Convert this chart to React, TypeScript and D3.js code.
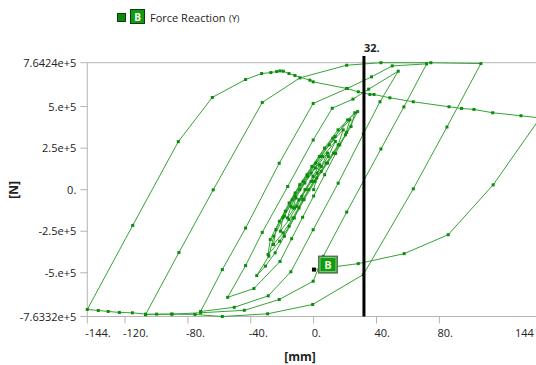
import React from 'react';
import * as d3 from 'd3';

// ---- tick data ----
const xTicks = [-144, -120, -80, -40, 0, 40, 80, 144];
const xTickLabels = ['-144.', '-120.', '-80.', '-40.', '0.', '40.', '80.', '144'];
const yTicks = [764240, 500000, 250000, 0, -250000, -500000, -763320];
const yTickLabels = ['7.6424e+5', '5.e+5', '2.5e+5', '0.', '-2.5e+5', '-5.e+5', '-7.6332e+5'];
const cursorX = 32;
const cursorLabel = '32.';
const seriesName = 'Force Reaction';
const seriesTag = 'B';

// ---- series: [displacement mm, force kN] in time order ----
const smallCycles: [number, number][] = [
  [0, 0], [2, 70], [3.8, 150],
  [-0.4, 80], [-5.5, 0], [-9.4, -60], [-13.2, -110],
  [-11.3, -50], [-5.6, 40], [1.1, 130], [8.8, 220],
  [4.9, 140], [-1.6, 50], [-7.5, -40], [-12.2, -110], [-16.6, -170],
  [-14.4, -100], [-8.8, 0], [-1.6, 100], [5.8, 200], [13.8, 290],
  [9.3, 200], [2.2, 100], [-5, 0], [-10.6, -100], [-15.7, -180], [-21.1, -250],
  [-19.6, -170], [-13.6, -60], [-6.6, 50], [1.3, 160], [10, 270], [18.8, 360],
  [15.6, 270], [7.9, 160], [0, 50], [-7, -60], [-13.2, -170], [-19.4, -260], [-25.6, -330],
  [-24, -240], [-18, -130], [-11.8, -20], [-4.2, 90], [3.6, 200], [12.2, 310], [23.1, 420],
  [20.2, 330], [12.7, 220], [4.8, 110], [-3.1, 0], [-9.3, -110], [-15.6, -220], [-21.6, -310], [-29, -390],
  [-27.6, -300], [-21.8, -190], [-15.6, -80], [-8.9, 30], [-1.1, 140], [6.9, 250], [15.5, 360], [26.2, 463],
  [23.8, 380], [16.6, 270], [8.8, 160], [0.9, 50], [-6.1, -60], [-12.3, -170], [-18.6, -280], [-24.5, -380], [-30.7, -460], [-36.2, -517],
  [-28.5, -400], [-25.4, -280], [-18.6, -160], [-11.9, -40], [-3.9, 80], [4.7, 200], [13.7, 320], [21.6, 420], [28, 470],
];
const unload28: [number, number][] = [
  [21, 345], [14, 218], [7, 90], [0, -38], [-7, -166], [-14, -295], [-21.4, -432], [-38, -595], [-54.7, -648],
];
const load54: [number, number][] = [
  [-43.3, -457], [-32.7, -257], [-16.5, 19], [-0.3, 299], [11.8, 490], [25, 545], [35, 605], [53.8, 713],
];
const unload54: [number, number][] = [
  [42.2, 529], [31.6, 335], [15.6, 39], [-0.3, -241], [-14.5, -494], [-28.9, -639], [-50.5, -708], [-71.9, -733],
];
const load72: [number, number][] = [
  [-58.1, -481], [-43.3, -231], [-21.9, 159], [-0.3, 519], [21.4, 609], [36.8, 679], [50, 745], [71.9, 757],
];
const unload72: [number, number][] = [
  [57.4, 498], [42.8, 245], [21, -135], [6.1, -401], [-0.3, -551], [-21.9, -661], [-44.1, -726], [-71.9, -741], [-90, -749], [-107, -753],
];
const load106: [number, number][] = [
  [-85.7, -378], [-63.9, -1], [-32.7, 525], [-8.7, 673], [21, 749], [42.8, 764.24], [74.6, 764], [106.4, 759],
];
const unload106: [number, number][] = [
  [84.8, 377], [63.4, 5], [31.6, -511], [-0.6, -691], [-29.3, -747], [-58.1, -763.32], [-75.5, -751], [-90.4, -749],
  [-99.9, -749], [-106.9, -749], [-115.3, -741], [-123.6, -739], [-130.7, -733], [-137, -727], [-144, -721],
];
const load144: [number, number][] = [
  [-115.1, -215], [-86.1, 289], [-64.5, 555], [-43.3, 663], [-33.1, 699], [-27.2, 705], [-23.5, 711], [-21.4, 715],
  [-19.3, 713], [-15.7, 699], [-11.9, 687], [-2.4, 659], [-0.3, 649], [21, 609], [28.4, 589], [35.8, 573], [38.4, 573],
  [48.5, 553], [63.4, 529], [86.1, 499], [94.1, 489], [102, 483], [113.9, 463], [131.9, 445], [144, 431],
];
const unload144: [number, number][] = [
  [114.2, 29], [85.6, -271], [57.6, -385], [28.4, -445], [0.2, -481],
];

const series: [number, number][] = [
  ...smallCycles, ...unload28, ...load54, ...unload54, ...load72, ...unload72,
  ...load106, ...unload106, ...load144, ...unload144,
];

const W = 536;
const H = 365;
const FONT = '"Open Sans", "Noto Sans", sans-serif';

export default function App() {
  const x = d3.scaleLinear().domain([-144, 144]).range([87.3, 540]);
  const y = d3.scaleLinear().domain([-763320, 764240]).range([316.5, 62.7]);
  const pts = series.map(([d, f]) => [x(d), y(f * 1000)] as [number, number]);
  const line = d3.line<[number, number]>().x((p) => p[0]).y((p) => p[1]);
  const last = pts[pts.length - 1];
  const left = x(-144);
  const bottom = y(-763320);
  const top = y(764240);
  const grey = '#b4b4b4';

  return (
    <svg width={W} height={H} style={{ position: 'absolute', left: 0, top: 0, background: '#fff' }} fontFamily={FONT}>
      {/* legend */}
      <rect x={117.5} y={13.5} width={8} height={8} fill="#0b8a0b" stroke="#0a3f0a" />
      <rect x={130.5} y={9.5} width={14} height={14} fill="#139a13" stroke="#0a3f0a" />
      <text x={137.5} y={20.5} fontSize={10} fill="#fff" textAnchor="middle" fontWeight="bold">{seriesTag}</text>
      <text x={150} y={22} fontSize={11} fill="#222">{seriesName}</text>
      <text x={229} y={22} fontSize={9} fill="#222">(Y)</text>

      {/* frame */}
      <line x1={left} x2={W} y1={top} y2={top} stroke={grey} />
      <line x1={left} x2={left} y1={top} y2={bottom} stroke={grey} />
      <line x1={left} x2={W} y1={bottom} y2={bottom} stroke={grey} />

      {/* y ticks */}
      {yTicks.map((t, i) => (
        <g key={'y' + i}>
          <line x1={left - 7} x2={left} y1={y(t)} y2={y(t)} stroke={grey} />
          <text x={left - 11} y={y(t) + 4} fontSize={11} textAnchor="end" fill="#222">{yTickLabels[i]}</text>
        </g>
      ))}
      {/* x ticks */}
      {xTicks.map((t, i) => (
        <g key={'x' + i}>
          <line x1={x(t)} x2={x(t)} y1={bottom} y2={bottom + 7} stroke={grey} />
          <text x={Math.min(x(t) - 2, W - 21)} y={337} fontSize={11} fill="#222">{xTickLabels[i]}</text>
        </g>
      ))}

      {/* axis titles */}
      <text x={300} y={361} fontSize={12} fontWeight="bold" textAnchor="middle" fill="#222">[mm]</text>
      <text transform="translate(18,190) rotate(-90)" fontSize={12} fontWeight="bold" textAnchor="middle" fill="#222">[N]</text>

      {/* series */}
      <path d={line(pts) || ''} fill="none" stroke="#36a336" strokeWidth={1} />
      {pts.map((p, i) => (
        <rect key={'m' + i} x={p[0] - 1.5} y={p[1] - 1.5} width={3} height={3} fill="#0c8c0c" />
      ))}

      {/* cursor */}
      <line x1={x(cursorX)} x2={x(cursorX)} y1={56} y2={bottom} stroke="#000" strokeWidth={3} />
      <text x={x(cursorX)} y={52} fontSize={11} fontWeight="bold" fill="#222">{cursorLabel}</text>

      {/* probe label */}
      <rect x={last[0] - 2} y={last[1] - 2} width={4} height={4} fill="#000" />
      <rect x={last[0] + 4.5} y={last[1] - 13.5} width={19} height={17} fill="#139a13" stroke="#666" />
      <rect x={last[0] + 6} y={last[1] - 12} width={16} height={14} fill="none" stroke="#7fcf7f" />
      <text x={last[0] + 14} y={last[1] - 1} fontSize={11} fontWeight="bold" fill="#f4f4d0" textAnchor="middle">{seriesTag}</text>
    </svg>
  );
}
